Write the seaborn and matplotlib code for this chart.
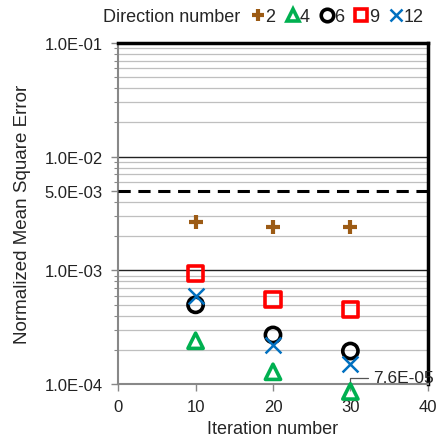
import matplotlib
matplotlib.use("Agg")
import matplotlib.pyplot as plt
import matplotlib.ticker as mticker
from matplotlib.lines import Line2D
import numpy as np
import pandas as pd
import seaborn as sns

sns.set_style("white")
plt.rcParams['font.family'] = ['Liberation Sans', 'DejaVu Sans']

iterations = [10, 20, 30]
directions = ["2", "4", "6", "9", "12"]
nmse_2 = [2.67e-3, 2.41e-3, 2.41e-3]
nmse_4 = [2.4e-4, 1.28e-4, 8.6e-5]
nmse_6 = [4.97e-4, 2.7e-4, 1.95e-4]
nmse_9 = [9.3e-4, 5.5e-4, 4.5e-4]
nmse_12 = [5.96e-4, 2.2e-4, 1.5e-4]
threshold = 5.0e-3
annot_text = "7.6E-05"
y_ticks = [1e-4, 1e-3, 5e-3, 1e-2, 1e-1]
y_tick_labels = ["1.0E-04", "1.0E-03", "5.0E-03", "1.0E-02", "1.0E-01"]
x_ticks = [0, 10, 20, 30, 40]

series = {"2": nmse_2, "4": nmse_4, "6": nmse_6, "9": nmse_9, "12": nmse_12}
styles = {
    "2": dict(marker="+", color="#9C5B15"),
    "4": dict(marker="^", color="#00B050"),
    "6": dict(marker="o", color="#000000"),
    "9": dict(marker="s", color="#FF0000"),
    "12": dict(marker="x", color="#0070C0"),
}

fig = plt.figure(figsize=(4.41, 4.39), dpi=100)
ax = fig.add_axes([0.268, 0.123, 0.702, 0.777])

for d in directions:
    df = pd.DataFrame({"it": iterations, "v": series[d]})
    st = styles[d]
    if d == "2":
        sns.scatterplot(data=df, x="it", y="v", ax=ax, marker="+", color=st["color"],
                        s=110, linewidth=3, zorder=5, clip_on=False)
    elif d == "12":
        sns.scatterplot(data=df, x="it", y="v", ax=ax, marker="x", color=st["color"],
                        s=130, linewidth=1.8, zorder=5, clip_on=False)
    else:
        sns.scatterplot(data=df, x="it", y="v", ax=ax, marker=st["marker"],
                        facecolor="none", edgecolor=st["color"],
                        s=120, linewidth=2.6, zorder=5, clip_on=False)

ax.set_yscale("log")
ax.set_ylim(1e-4, 1e-1)
ax.set_xlim(0, 40)

ax.yaxis.set_minor_locator(mticker.LogLocator(base=10, subs=np.arange(2, 10)))
ax.yaxis.set_minor_formatter(mticker.NullFormatter())
ax.grid(True, which="minor", axis="y", color="#BFBFBF", linewidth=0.9)
for v in [1e-3, 1e-2]:
    ax.axhline(v, color="#222222", linewidth=1.0, zorder=2)
ax.axhline(threshold, color="black", linewidth=2.2, linestyle=(0, (4, 2.5)), zorder=3)

ax.set_yticks(y_ticks)
ax.set_yticklabels(y_tick_labels)
ax.set_xticks(x_ticks)
ax.tick_params(axis="both", labelsize=12, colors="#222222", direction="out")
ax.tick_params(axis="y", which="major", length=5, width=1, color="#888888", left=True, pad=6)
ax.tick_params(axis="y", which="minor", length=3, width=0.8, color="#888888", left=True)
ax.tick_params(axis="x", which="major", length=5, width=1, color="#888888", bottom=True, pad=6)

for s in ["top", "right"]:
    ax.spines[s].set_color("black")
    ax.spines[s].set_linewidth(2.5)
for s in ["left", "bottom"]:
    ax.spines[s].set_color("#888888")
    ax.spines[s].set_linewidth(1.5)

ax.set_xlabel("Iteration number", fontsize=13, labelpad=4)
ax.set_ylabel("Normalized Mean Square Error", fontsize=13.5, labelpad=10)

ax.annotate(annot_text, xy=(30, nmse_4[2] * 1.12), xytext=(33.0, nmse_4[2] * 1.32),
            fontsize=12.5, va="center", ha="left", annotation_clip=False,
            arrowprops=dict(arrowstyle="-", color="#555555", linewidth=0.9,
                            connectionstyle="angle,angleA=0,angleB=90,rad=0",
                            shrinkA=2, shrinkB=0))

fig.text(0.233, 0.959, "Direction number", fontsize=13, va="center", ha="left")
handles = []
for d in directions:
    st = styles[d]
    if d == "2":
        h = Line2D([], [], linestyle="none", marker="+", color=st["color"], markersize=9, markeredgewidth=3)
    elif d == "12":
        h = Line2D([], [], linestyle="none", marker="x", color=st["color"], markersize=9, markeredgewidth=1.8)
    else:
        h = Line2D([], [], linestyle="none", marker=st["marker"], markerfacecolor="none",
                   markeredgecolor=st["color"], markersize=9, markeredgewidth=2.6)
    handles.append(h)
fig.legend(handles, directions, loc="center left", bbox_to_anchor=(0.565, 0.959), ncol=5,
           frameon=False, fontsize=13, handletextpad=-0.1, columnspacing=0.45,
           handlelength=1.0, borderaxespad=0, borderpad=0)

fig.savefig("out.png", dpi=100)
